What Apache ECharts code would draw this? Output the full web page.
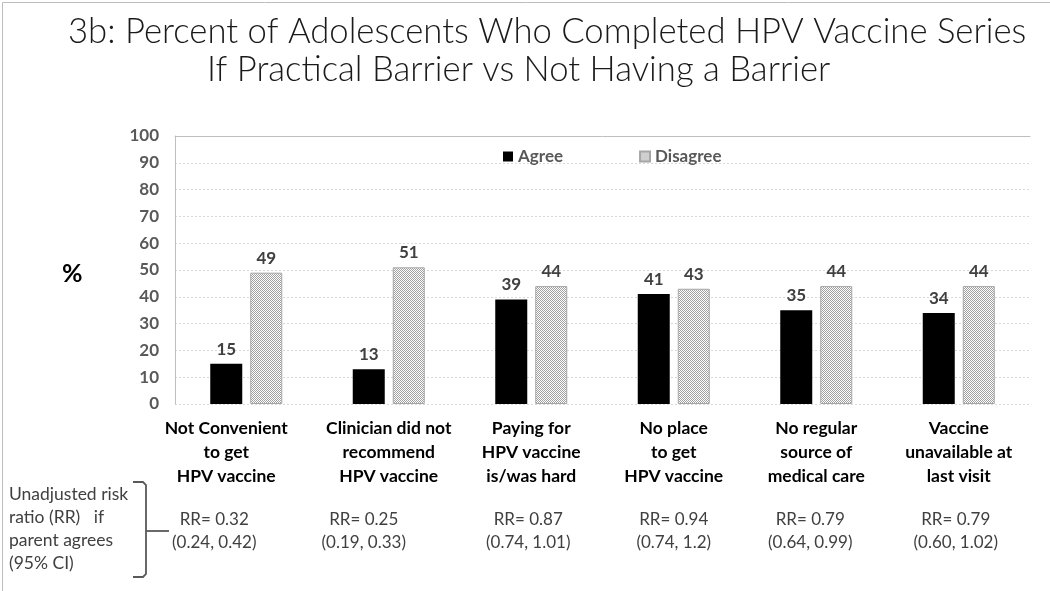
<!DOCTYPE html>
<html>
<head>
<meta charset="utf-8">
<script src="https://cdn.jsdelivr.net/npm/echarts@6/dist/echarts.min.js"></script>
<style>
html,body{margin:0;padding:0;background:#fff;}
#c{width:1050px;height:591px;}
</style>
</head>
<body>
<div id="c"></div>
<script>
// ---- data ----
const categories = [
  'Not Convenient\nto get\nHPV vaccine',
  'Clinician did not\nrecommend\nHPV vaccine',
  'Paying for\nHPV vaccine\nis/was hard',
  'No place\nto get\nHPV vaccine',
  'No regular\nsource of\nmedical care',
  'Vaccine\nunavailable at\nlast visit'
];
const agree = [15, 13, 39, 41, 35, 34];
const disagree = [49, 51, 44, 43, 44, 44];
const rrLabels = [
  'RR= 0.32\n(0.24, 0.42)',
  'RR= 0.25\n(0.19, 0.33)',
  'RR= 0.87\n(0.74, 1.01)',
  'RR= 0.94\n(0.74, 1.2)',
  'RR= 0.79\n(0.64, 0.99)',
  'RR= 0.79\n(0.60, 1.02)'
];
const yTicks = [0, 100, 10]; // min, max, interval
const titleLines = [
  '3b: Percent of Adolescents Who Completed HPV Vaccine Series',
  'If Practical Barrier vs Not Having a Barrier'
];
const sideNote = 'Unadjusted risk\nratio (RR)   if\nparent agrees\n(95% CI)';

// ---- layout tweaks (horizontal nudges of label blocks, px; negative = left) ----
const nameShift = [-20, 0, 0, 0, 0, 0];
const rrShift = [-32, -25, -3, 0, -6, -3];

const FONT = 'Lato, "Open Sans", sans-serif';

// checker pattern for Disagree
const pc = document.createElement('canvas');
pc.width = 4; pc.height = 4;
const pctx = pc.getContext('2d');
pctx.fillStyle = '#ffffff'; pctx.fillRect(0, 0, 4, 4);
pctx.fillStyle = '#a0a0a0';
pctx.fillRect(0, 0, 1, 1); pctx.fillRect(2, 0, 1, 1);
pctx.fillRect(1, 1, 1, 1); pctx.fillRect(3, 1, 1, 1);
pctx.fillRect(0, 2, 1, 1); pctx.fillRect(2, 2, 1, 1);
pctx.fillRect(1, 3, 1, 1); pctx.fillRect(3, 3, 1, 1);
const checker = { image: pc, repeat: 'repeat' };

const chart = echarts.init(document.getElementById('c'), null, { renderer: 'canvas' });

const nameBase = { fontFamily: FONT, fontWeight: 'bold', fontSize: 17.5, color: '#000', lineHeight: 24 };
const rrBase = { fontFamily: FONT, fontWeight: 'normal', fontSize: 17, color: '#404040', lineHeight: 23 };

function makeRich(base, shifts, prefix) {
  const rich = {};
  shifts.forEach((s, i) => {
    const pad = Math.abs(s) * 2;
    rich[prefix + i] = Object.assign({}, base, {
      padding: s < 0 ? [0, pad, 0, 0] : [0, 0, 0, pad]
    });
  });
  return rich;
}
function fmt(prefix) {
  return function (value, index) {
    return value.split('\n').map(l => '{' + prefix + index + '|' + l + '}').join('\n');
  };
}

const option = {
  backgroundColor: '#ffffff',
  animation: false,
  title: [
    { text: titleLines[0], left: 63, top: 9,
      textStyle: { fontFamily: FONT, fontWeight: 300, fontSize: 34.7, color: '#1a1a1a' } },
    { text: titleLines[1], left: 202, top: 47,
      textStyle: { fontFamily: FONT, fontWeight: 300, fontSize: 34.7, color: '#1a1a1a' } }
  ],
  legend: {
    left: 498, top: 143,
    itemWidth: 10, itemHeight: 10, itemGap: 76,
    icon: 'rect',
    textStyle: { fontFamily: FONT, fontWeight: 'bold', fontSize: 17, color: '#595959' },
    data: ['Agree', 'Disagree']
  },
  grid: { left: 175, right: 20, top: 136, bottom: 187, containLabel: false },
  xAxis: [
    {
      type: 'category', data: categories, position: 'bottom',
      axisLine: { show: false }, axisTick: { show: false },
      axisLabel: { interval: 0, margin: 12, formatter: fmt('n'), rich: makeRich(nameBase, nameShift, 'n') }
    },
    {
      type: 'category', data: rrLabels, position: 'bottom', offset: 104,
      axisLine: { show: false }, axisTick: { show: false }, splitLine: { show: false },
      axisLabel: { interval: 0, margin: 0, formatter: fmt('r'), rich: makeRich(rrBase, rrShift, 'r') }
    },
    {
      type: 'category', data: categories, position: 'top',
      axisLine: { show: true, lineStyle: { color: '#bfbfbf', width: 1 } },
      axisTick: { show: false }, axisLabel: { show: false }, splitLine: { show: false }
    }
  ],
  yAxis: {
    type: 'value', min: yTicks[0], max: yTicks[1], interval: yTicks[2],
    axisLine: { show: true, lineStyle: { color: '#bfbfbf', width: 1 } },
    axisTick: { show: false },
    axisLabel: { margin: 16, fontFamily: FONT, fontWeight: 'bold', fontSize: 17, color: '#595959' },
    splitLine: { show: true, lineStyle: { color: '#d9d9d9', type: [2, 2], width: 1 } }
  },
  series: [
    {
      name: 'Agree', type: 'bar', data: agree, xAxisIndex: 0,
      barWidth: 32, barGap: '25%',
      itemStyle: { color: '#000000' },
      label: { show: true, position: 'top', distance: 6,
        fontFamily: FONT, fontWeight: 'bold', fontSize: 17, color: '#404040' }
    },
    {
      name: 'Disagree', type: 'bar', data: disagree, xAxisIndex: 0,
      barWidth: 32, barGap: '25%',
      itemStyle: { color: checker, borderColor: '#a6a6a6', borderWidth: 1 },
      label: { show: true, position: 'top', distance: 6,
        fontFamily: FONT, fontWeight: 'bold', fontSize: 17, color: '#404040' }
    }
  ],
  graphic: [
    { type: 'rect', left: 0, top: 0, silent: true,
      shape: { x: 0.5, y: 0.5, width: 1048, height: 589 },
      style: { fill: 'none', stroke: '#bdbdbd', lineWidth: 1 } },
    { type: 'text', left: 62, top: 261, silent: true,
      style: { text: '%', fontFamily: FONT, fontWeight: 'bold', fontSize: 25, fill: '#000' } },
    { type: 'text', left: 9, top: 483, silent: true,
      style: { text: sideNote, fontFamily: FONT, fontSize: 17.5, lineHeight: 23, fill: '#404040' } },
    { type: 'polyline', silent: true,
      shape: { points: [[133, 482], [143, 482], [146, 485], [146, 574], [143, 577], [133, 577]] },
      style: { stroke: '#595959', lineWidth: 1.8, fill: 'none' } },
    { type: 'line', silent: true,
      shape: { x1: 146, y1: 531, x2: 169, y2: 531 },
      style: { stroke: '#595959', lineWidth: 1.8 } }
  ]
};

chart.setOption(option);
</script>
</body>
</html>
